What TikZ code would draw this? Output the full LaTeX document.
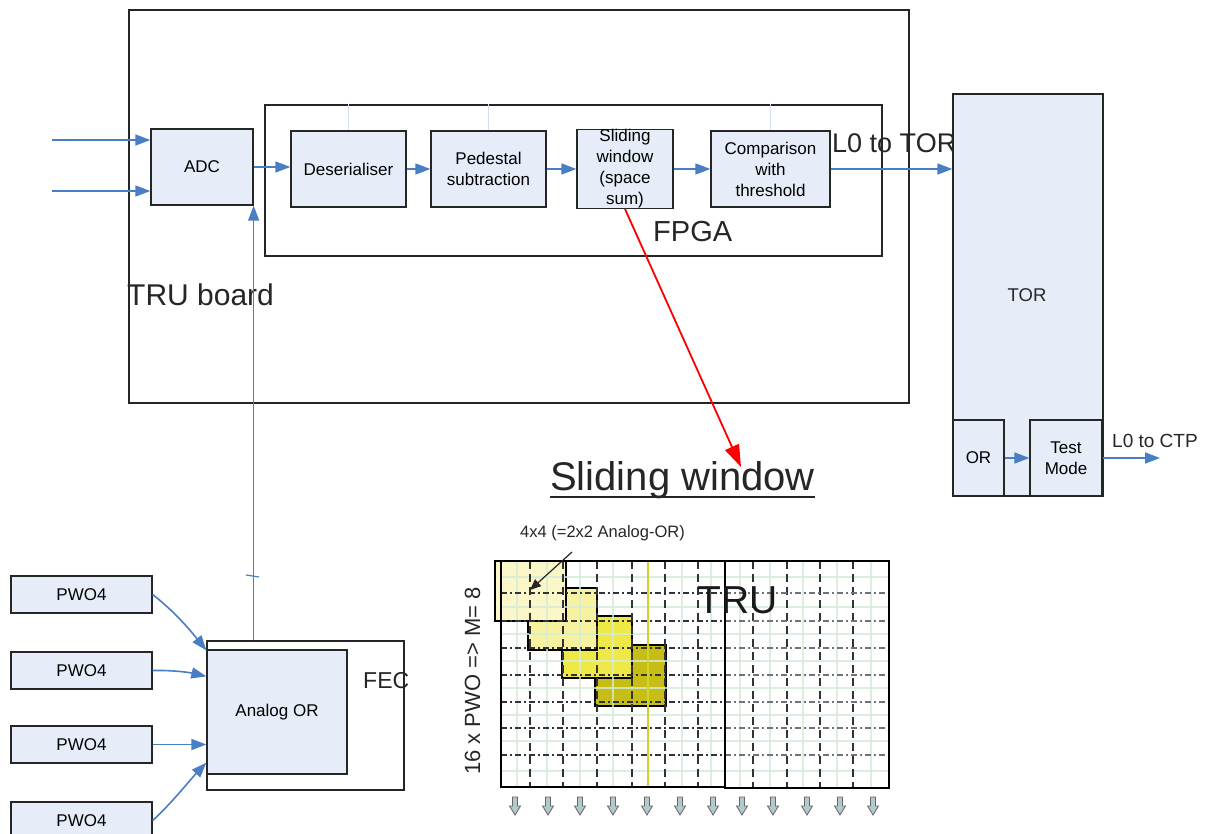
\documentclass[tikz,border=0pt]{standalone}
\usepackage{fontspec}
\setmainfont{Liberation Sans}
\usetikzlibrary{arrows.meta,calc}

\definecolor{boxfill}{RGB}{230,237,248}
\definecolor{flowblue}{RGB}{74,126,196}
\definecolor{gridgreen}{RGB}{212,236,216}
\definecolor{winA}{RGB}{251,247,200}
\definecolor{winB}{RGB}{247,242,160}
\definecolor{winC}{RGB}{239,233,72}
\definecolor{winD}{RGB}{198,190,22}
\definecolor{colline}{RGB}{205,214,40}
\definecolor{outarrow}{RGB}{176,200,208}
\newcommand\fsz[2]{\fontsize{#1}{#2}\selectfont}

\begin{document}
\begin{tikzpicture}[x=1pt,y=-1pt,
  block/.style={draw=black!85, line width=1.3pt, fill=boxfill, inner sep=0pt,
    align=center, font=\fsz{17}{21}},
  frame/.style={draw=black!85, line width=1.3pt, fill=white, inner sep=0pt},
  flow/.style={draw=flowblue, line width=1.6pt, -{Triangle[length=15pt,width=11pt]}},
  label/.style={inner sep=0pt, text=black!85},
  dashv/.style={draw=black!80, line width=1.1pt, dash pattern=on 8pt off 5pt},
  dashh/.style={draw=black!80, line width=1.1pt, dash pattern=on 6pt off 3pt on 2pt off 3pt},
  greenline/.style={draw=gridgreen, line width=1.5pt, opacity=0.8},
  window/.style={draw=black, line width=1.2pt}
]
\useasboundingbox (0,0) rectangle (1209,834);
\fill[white] (0,0) rectangle (1209,834);

% ---------------- TRU board ----------------
\node[frame, minimum width=780pt, minimum height=393pt] (tru) at (519,206.5) {};
\node[frame, minimum width=617pt, minimum height=151pt] (fpga) at (573.5,180.5) {};

\node[block, minimum width=102pt, minimum height=76pt] (adc) at (202,167) {ADC};
\node[block, minimum width=115pt, minimum height=76pt] (deser) at (348.5,169) {Deserialiser};
\node[block, minimum width=115pt, minimum height=76pt] (ped) at (488.5,169) {Pedestal\\subtraction};
\node[block, minimum width=96pt, minimum height=76pt] (slide) at (625,169) {Sliding\\window\\(space\\sum)};
\node[block, minimum width=119pt, minimum height=76pt] (comp) at (770.5,169) {Comparison\\with\\threshold};

% faint stubs on the FPGA frame
\foreach \n in {deser,ped,comp}
  \draw[flowblue!25, line width=0.5pt] (\n.north) -- (\n.north |- fpga.north);

\node[label, anchor=base west, font=\fsz{29}{34}] (fpgalab) at (653,242) {FPGA};
\node[label, anchor=base west, font=\fsz{30}{36}] (trulab) at (127,305) {TRU board};
\node[label, anchor=base west, font=\fsz{27}{32}] (l0tor) at (832,153) {L0 to TOR};

% ---------------- TOR ----------------
\node[block, minimum width=150pt, minimum height=402pt] (tor) at (1028,295) {};
\node[label, font=\fsz{18.5}{22}] (torlab) at (1027,295) {TOR};
\node[block, minimum width=51pt, minimum height=76pt] (or) at (978.5,458) {OR};
\node[block, minimum width=72pt, minimum height=76pt] (test) at (1066,458) {Test\\Mode};
\coordinate (ctp) at (1160,459);
\node[label, anchor=base west, font=\fsz{19}{23}] (l0ctp) at (1112,447) {L0 to CTP};

% ---------------- FEC and crystals ----------------
\node[frame, minimum width=197pt, minimum height=149pt] (fec) at (305.5,715.5) {};
\node[block, minimum width=140pt, minimum height=124pt] (aor) at (277,712) {Analog OR};
\node[label, anchor=base west, font=\fsz{23}{27}] (feclab) at (363,688) {FEC};

\node[block, minimum width=141pt, minimum height=37pt] (p1) at (81.5,594.5) {PWO4};
\node[block, minimum width=141pt, minimum height=37pt] (p2) at (81.5,670.5) {PWO4};
\node[block, minimum width=141pt, minimum height=37pt] (p3) at (81.5,744.5) {PWO4};
\node[block, minimum width=141pt, minimum height=37pt] (p4) at (81.5,820.5) {PWO4};

% ---------------- signal flow ----------------
\coordinate (in1) at (52,140);
\coordinate (in2) at (52,191);
\draw[flow] (in1) -- (in1 -| adc.west);
\draw[flow] (in2) -- (in2 -| adc.west);
\draw[flow] (adc.east) -- (adc.east -| deser.west);
\draw[flow] (deser.east) -- (ped.west);
\draw[flow] (ped.east) -- (slide.west);
\draw[flow] (slide.east) -- (comp.west);
\draw[flow] (comp.east) -- (comp.east -| tor.west);
\draw[flow] (or.east) -- (test.west);
\draw[flow] (test.east) -- (test.east -| ctp);

\draw[flow] (adc.south east |- fec.north) -- (adc.south east);
\draw[flowblue, line width=1.2pt] (246,575) -- (259,577);

\draw[flow] (p1.east) .. controls (175,612) and (190,630) .. ([yshift=-1pt]aor.north west);
\draw[flow] (p2.east) .. controls (175,670) and (192,673) .. ([yshift=-27pt]aor.north west);
\draw[flow] (p3.east) -- (p3.east -| aor.west);
\draw[flow] (p4.east) .. controls (170,805) and (190,780) .. ([yshift=12pt]aor.south west);

% ---------------- sliding window sketch ----------------
\coordinate (swtip) at (741,467);
\draw[red, line width=1.8pt, -{Triangle[length=22pt,width=15pt]}] (slide.south) -- (swtip);

\node[label, anchor=base west, font=\fsz{40}{46}] (swtitle) at (550,490) {Sliding window};
\draw[black!85, line width=1.4pt] ([yshift=-7pt]swtitle.base west) -- ([yshift=-7pt]swtitle.base east);

% windows (later ones underneath)
\filldraw[window, fill=winD] (595,645) rectangle (666,706);
\filldraw[window, fill=winC] (562,616) rectangle (632,678);
\filldraw[window, fill=winB] (528,588) rectangle (597,650);
\filldraw[window, fill=winA] (495,561) rectangle (566,621);

% crystal grid
\foreach \x in {517,547,580,613,682,711,740,770,803,837,871}
  \draw[greenline] (\x,561) -- (\x,787);
\foreach \y in {577,607,634,661,688,715,741,771}
  \draw[greenline] (501,\y) -- (889,\y);
\foreach \x in {530,563,597,632,665,698,753,787,820,853}
  \draw[dashv] (\x,561) -- (\x,787);
\foreach \y in {593,621,648,675,702,728,755}
  \draw[dashh] (501,\y) -- (725,\y);
\foreach \y in {593,621,648,675,702,728,755}
  \draw[dashh, draw=black!55] (725,\y) -- (889,\y);
\draw[colline, line width=1.5pt] (648,561) -- (648,787);

\node[draw=black, line width=1.3pt, inner sep=0pt, minimum width=224pt, minimum height=226pt] (grid1) at (613,674) {};
\node[draw=black, line width=1.3pt, inner sep=0pt, minimum width=164pt, minimum height=227pt] (grid2) at (807,674.5) {};

\node[label, anchor=base west, font=\fsz{39}{45}, text=black!90] (trulabel) at (697,613) {TRU};
\node[label, anchor=base west, font=\fsz{16.5}{20}] (winlab) at (520,537) {4x4 (=2x2 Analog-OR)};
\coordinate (wfrom) at (572,552);
\coordinate (wto) at (530,590);
\draw[black!85, line width=1.2pt, -{Triangle[length=11pt,width=9pt]}] (wfrom) -- (wto);

\node[label, anchor=base west, rotate=90, font=\fsz{22}{26}] (mlab) at (480,775) {16 x PWO => M= 8};

% readout arrows
\foreach \x in {515,548,580,613,647,680,713,742,773,807,840,873}
  \draw[fill=outarrow, draw=black!60, line width=0.8pt]
    (\x-2.5,797) -- (\x+2.5,797) -- (\x+2.5,806) -- (\x+5.5,806) -- (\x,815)
    -- (\x-5.5,806) -- (\x-2.5,806) -- cycle;
\end{tikzpicture}
\end{document}
